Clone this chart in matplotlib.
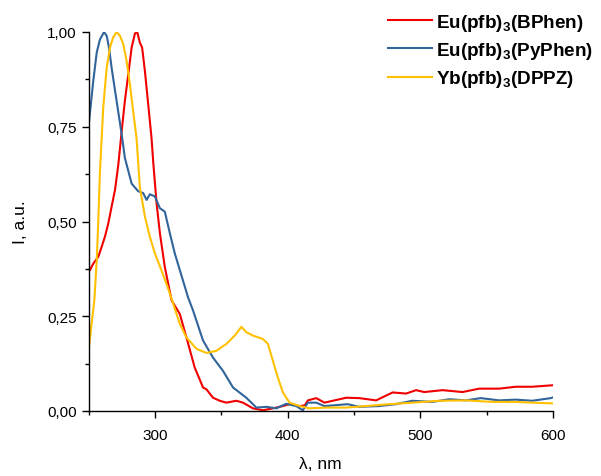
import matplotlib
matplotlib.use("Agg")
import matplotlib.pyplot as plt
from matplotlib.ticker import MultipleLocator, FuncFormatter

plt.rcParams['font.family'] = ['Liberation Sans', 'DejaVu Sans']
plt.rcParams['mathtext.fontset'] = 'custom'
plt.rcParams['mathtext.rm'] = 'Liberation Sans'
plt.rcParams['mathtext.bf'] = 'Liberation Sans:bold'

# Eu(pfb)3(BPhen)
bphen_x = [250, 251, 253.6, 257.4, 259.9, 262.4, 264.9, 267.4, 270, 272.4, 275, 277.4, 280, 282.5, 285,
           286.7, 288.7, 290.4, 292.5, 295, 297.5, 298.7, 301.3, 303.8, 307.5, 312.6, 318.8, 323.8, 330,
           336.3, 338.9, 343.8, 348.9, 353.9, 361.4, 366.4, 373.9, 381.4, 388.9, 396.5, 401.5, 409, 413,
           415.3, 421.6, 427.8, 434, 444.2, 454, 466.7, 479.2, 489.3, 496.8, 503, 516.8, 531.8, 544.4,
           559.4, 572, 584.4, 600]
bphen_y = [0.37, 0.371, 0.389, 0.407, 0.433, 0.46, 0.495, 0.539, 0.584, 0.648, 0.738, 0.818, 0.889, 0.959,
           0.996, 1.0, 0.972, 0.959, 0.897, 0.809, 0.72, 0.66, 0.548, 0.469, 0.38, 0.292, 0.256, 0.194,
           0.115, 0.062, 0.057, 0.035, 0.027, 0.022, 0.027, 0.022, 0.007, 0.002, 0.007, 0.013, 0.018,
           0.013, 0.015, 0.028, 0.034, 0.022, 0.027, 0.035, 0.034, 0.028, 0.049, 0.046, 0.055, 0.050,
           0.055, 0.050, 0.059, 0.059, 0.064, 0.064, 0.068]

# Eu(pfb)3(PyPhen)
pyphen_x = [250, 253.6, 256.2, 258.6, 261.7, 263.7, 265.4, 267.4, 270, 272.4, 275, 277.4, 282.5, 287.4,
            291.2, 293.8, 296.2, 300, 303.8, 307.5, 311.3, 315, 320, 325, 328.8, 336.3, 343.8, 351.3,
            358.9, 368.9, 376.5, 384, 391.5, 399, 406.5, 411.5, 415.3, 421.6, 427.8, 445.3, 454, 469,
            481.7, 494, 509, 521.8, 534.4, 545.6, 559.4, 572, 584.4, 598.3, 600]
pyphen_y = [0.75, 0.871, 0.946, 0.98, 1.0, 0.99, 0.96, 0.906, 0.845, 0.79, 0.73, 0.668, 0.60, 0.58,
            0.575, 0.557, 0.572, 0.566, 0.535, 0.526, 0.469, 0.416, 0.358, 0.30, 0.265, 0.186, 0.141,
            0.106, 0.062, 0.035, 0.009, 0.011, 0.007, 0.019, 0.013, 0.002, 0.022, 0.022, 0.013, 0.018,
            0.011, 0.013, 0.018, 0.027, 0.024, 0.031, 0.028, 0.034, 0.028, 0.030, 0.027, 0.034, 0.036]

# Yb(pfb)3(DPPZ)
dppz_x = [250, 252, 254.4, 256.2, 257.4, 258.6, 261.1, 263.7, 266.2, 268.6, 271.2, 273.7, 276.2, 278.7,
          281.2, 283.7, 286.2, 288.7, 292.5, 296.2, 300, 305, 310, 313, 318.8, 323.8, 331.4, 338.9,
          346.4, 353.9, 360.2, 365.2, 368.9, 373.9, 381.4, 385.2, 388.9, 392.7, 396.5, 401.5, 409,
          416.5, 429, 444, 459, 476.7, 494, 514.3, 534.4, 554.4, 572, 584.4, 600]
dppz_y = [0.155, 0.22, 0.292, 0.398, 0.504, 0.63, 0.80, 0.906, 0.959, 0.986, 1.0, 0.99, 0.968, 0.924,
          0.862, 0.79, 0.72, 0.59, 0.513, 0.46, 0.416, 0.371, 0.323, 0.292, 0.23, 0.194, 0.164, 0.153,
          0.159, 0.177, 0.199, 0.222, 0.208, 0.199, 0.19, 0.177, 0.133, 0.088, 0.049, 0.022, 0.013,
          0.007, 0.009, 0.009, 0.013, 0.018, 0.022, 0.027, 0.028, 0.024, 0.024, 0.022, 0.02]

labels = [r'Eu(pfb)$_\mathbf{3}$(BPhen)', r'Eu(pfb)$_\mathbf{3}$(PyPhen)', r'Yb(pfb)$_\mathbf{3}$(DPPZ)']
colors = ['#f00000', '#31649b', '#ffc000']

fig = plt.figure(figsize=(6.01, 4.77), dpi=100)
ax = fig.add_axes([88.5 / 601, (477 - 412) / 477, (553 - 88.5) / 601, (412 - 33) / 477])

for xs, ys, lab, c in zip([bphen_x, pyphen_x, dppz_x], [bphen_y, pyphen_y, dppz_y], labels, colors):
    ax.plot(xs, ys, color=c, lw=1.5, label=lab)

ax.set_xlim(250, 600)
ax.set_ylim(0, 1.0)
ax.spines['top'].set_visible(False)
ax.spines['right'].set_visible(False)
ax.xaxis.set_major_locator(MultipleLocator(100))
ax.xaxis.set_minor_locator(MultipleLocator(50))
ax.yaxis.set_major_locator(MultipleLocator(0.25))
ax.yaxis.set_minor_locator(MultipleLocator(0.125))
ax.yaxis.set_major_formatter(FuncFormatter(lambda v, p: f'{v:.2f}'.replace('.', ',')))
ax.tick_params(which='major', length=5, width=1, labelsize=11, direction='out')
ax.tick_params(axis='x', which='major', pad=7.5)
ax.tick_params(which='minor', length=3, width=1, direction='out')
ax.set_xlabel('λ, nm', fontsize=12.5, labelpad=10)
ax.set_ylabel('I, a.u.', fontsize=12.5, labelpad=14)
for sp in ['left', 'bottom']:
    ax.spines[sp].set_linewidth(1)

leg = fig.legend(loc='upper left', bbox_to_anchor=(380 / 601, 1 - 5 / 477), frameon=False,
                 prop={'weight': 'bold', 'size': 13.6}, handlelength=2.33, handletextpad=0.26,
                 labelspacing=0.39, borderaxespad=0)

fig.savefig('out.png', dpi=100)
